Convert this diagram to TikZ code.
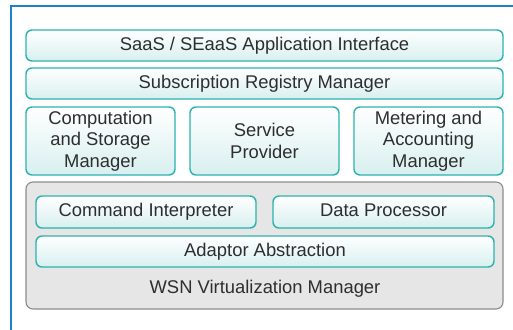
\documentclass[tikz,border=0pt]{standalone}
\usepackage{fontspec}
\setmainfont{Liberation Sans}
\definecolor{frameblue}{HTML}{1E7FCB}
\definecolor{boxline}{HTML}{2AB3AD}
\definecolor{boxfill}{HTML}{D8EFEF}
\definecolor{wsnfill}{HTML}{E6E6E7}
\definecolor{wsnline}{HTML}{8C8C8C}
\definecolor{txt}{HTML}{2E2E2E}
\tikzset{
  layer/.style={draw=boxline, line width=1.4pt, rounded corners=6pt,
    top color=white, bottom color=boxfill, text=txt, align=center,
    inner sep=0pt, font=\fontsize{18.4}{21.5}\selectfont},
  oneline/.style={layer, text height=13.2pt, text depth=3.9pt},
  wsnbox/.style={draw=wsnline, line width=1.1pt, rounded corners=7pt,
    fill=wsnfill, inner sep=0pt}
}
\begin{document}
\begin{tikzpicture}[x=1pt, y=-1pt]
  \useasboundingbox (0,0) rectangle (513,329);
  \clip (0,0) rectangle (513,329);
  \draw[frameblue, line width=2.4pt] (11,6) rectangle (530,350);
  \node[oneline, minimum width=477pt, minimum height=31pt] (saas) at (264.5,45.5) {SaaS / SEaaS Application Interface};
  \node[oneline, minimum width=477pt, minimum height=31pt] (reg) at (264.5,83.5) {Subscription Registry Manager};
  \node[layer, minimum width=149pt, minimum height=68pt] (comp) at (100.5,141) {Computation\\and Storage\\Manager};
  \node[layer, minimum width=149pt, minimum height=68pt] (prov) at (264.5,141) {Service\\Provider};
  \node[layer, minimum width=149pt, minimum height=68pt] (meter) at (428.5,141) {Metering and\\Accounting\\Manager};
  \node[wsnbox, minimum width=477pt, minimum height=127pt] (wsn) at (264.5,245.5) {};
  \node[oneline, minimum width=220pt, minimum height=32pt] (cmd) at (146,212) {Command Interpreter};
  \node[oneline, minimum width=221pt, minimum height=32pt] (data) at (383.5,212) {Data Processor};
  \node[oneline, minimum width=458pt, minimum height=31pt] (adapt) at (265,251.5) {Adaptor Abstraction};
  \node[text=txt, font=\fontsize{18.4}{21.5}\selectfont, text height=13.2pt, text depth=3.9pt] (wsnlabel) at (265,288.5) {WSN Virtualization Manager};
\end{tikzpicture}
\end{document}
